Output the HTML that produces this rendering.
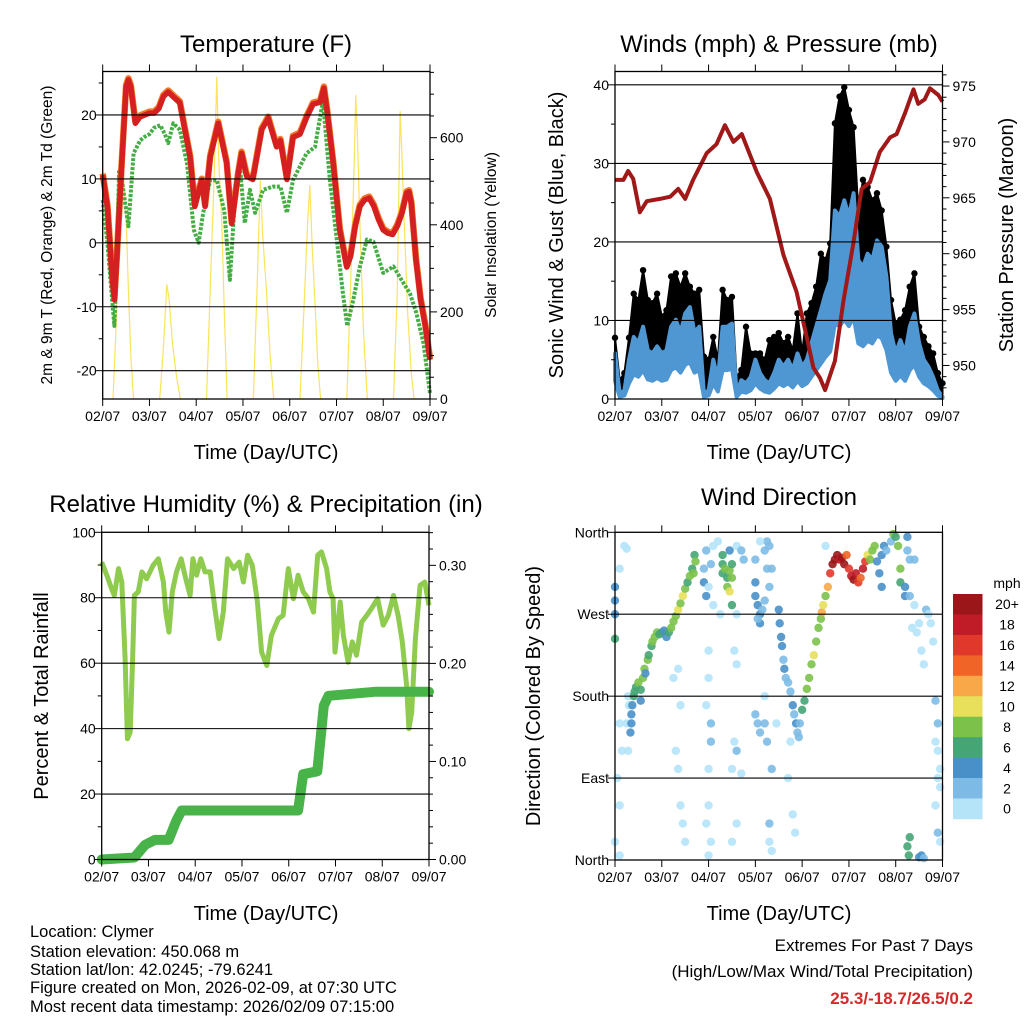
<!DOCTYPE html>
<html><head><meta charset="utf-8"><title>Station meteogram</title>
<style>
html,body{margin:0;padding:0;background:#fff;}
svg{display:block;font-family:"Liberation Sans",Arial,sans-serif;}
.tick{font-size:14px;fill:#000;}
.ttl{font-size:24px;fill:#000;}
.axt{font-size:20px;fill:#000;}
.ft{font-size:16.5px;fill:#000;}
</style></head>
<body>
<svg id="fig" width="1024" height="1024" viewBox="0 0 1024 1024" xmlns="http://www.w3.org/2000/svg">
<rect x="0" y="0" width="1024" height="1024" fill="#fff"/>
<text class="ttl" x="266" y="52" text-anchor="middle">Temperature (F)</text>
<text class="ttl" x="779" y="52" text-anchor="middle">Winds (mph) &amp; Pressure (mb)</text>
<text class="ttl" x="266" y="512" text-anchor="middle">Relative Humidity (%) &amp; Precipitation (in)</text>
<text class="ttl" x="779" y="505" text-anchor="middle">Wind Direction</text>
<text class="axt" x="266" y="459" text-anchor="middle">Time (Day/UTC)</text>
<text class="axt" x="779" y="459" text-anchor="middle">Time (Day/UTC)</text>
<text class="axt" x="266" y="920" text-anchor="middle">Time (Day/UTC)</text>
<text class="axt" x="779" y="920" text-anchor="middle">Time (Day/UTC)</text>
<text font-size="15.5" x="0" y="0" transform="translate(52,235) rotate(-90)" text-anchor="middle">2m &amp; 9m T (Red, Orange) &amp; 2m Td (Green)</text>
<text font-size="15.5" x="0" y="0" transform="translate(496,235) rotate(-90)" text-anchor="middle">Solar Insolation (Yellow)</text>
<text class="axt" x="0" y="0" transform="translate(563,235) rotate(-90)" text-anchor="middle">Sonic Wind &amp; Gust (Blue, Black)</text>
<text class="axt" x="0" y="0" transform="translate(1013,235) rotate(-90)" text-anchor="middle">Station Pressure (Maroon)</text>
<text class="axt" x="0" y="0" transform="translate(48,696) rotate(-90)" text-anchor="middle">Percent &amp; Total Rainfall</text>
<text class="axt" x="0" y="0" transform="translate(540,696) rotate(-90)" text-anchor="middle">Direction (Colored By Speed)</text>
<g>
<text class="ft" x="30" y="937">Location: Clymer</text>
<text class="ft" x="30" y="957">Station elevation: 450.068 m</text>
<text class="ft" x="30" y="975">Station lat/lon: 42.0245; -79.6241</text>
<text class="ft" x="30" y="993">Figure created on Mon, 2026-02-09, at 07:30 UTC</text>
<text class="ft" x="30" y="1012">Most recent data timestamp: 2026/02/09 07:15:00</text>
</g>
<g>
<text font-size="17" x="973" y="951" text-anchor="end">Extremes For Past 7 Days</text>
<text font-size="17" x="973" y="977" text-anchor="end">(High/Low/Max Wind/Total Precipitation)</text>
<text font-size="17" font-weight="bold" fill="#d42a2a" x="973" y="1004" text-anchor="end">25.3/-18.7/26.5/0.2</text>
</g>
</svg>
<script>
// ---------- data ----------
const dayLabels = ["02/07","03/07","04/07","05/07","06/07","07/07","08/07","09/07"];
const tempT = [0,0.1,0.2,0.25,0.3,0.4,0.5,0.55,0.6,0.7,0.8,0.9,1.0,1.1,1.2,1.3,1.4,1.5,1.65,1.75,1.87,1.97,2.05,2.12,2.19,2.3,2.47,2.65,2.76,2.9,2.97,3.08,3.21,3.4,3.54,3.72,3.8,3.94,4.07,4.22,4.36,4.5,4.65,4.73,4.8,4.93,5.07,5.22,5.3,5.4,5.5,5.6,5.7,5.8,5.9,6.0,6.1,6.2,6.3,6.4,6.5,6.55,6.6,6.7,6.8,6.9,7.0];
const tempRed = [10.6,5.7,-5.3,-8.9,-2.7,11.4,24.4,25.5,24.4,18.7,19.7,20,20.3,20.3,21,22.9,23.6,22.9,21.9,18,13.4,5.7,8,9.8,5.7,13.4,18.7,12.5,3,10.9,14,10.4,9.9,17.7,19.5,15,16,9.9,16.5,17,19.6,21.7,22,24.2,20.6,12.5,2,-3.8,-2.1,2.6,5.7,6.7,7,5.7,3.6,2,1.5,1.3,2.6,4.6,7.8,8,6.2,-2.7,-8.9,-13,-18.3];
const dewT = [0,0.1,0.2,0.25,0.3,0.35,0.4,0.55,0.66,0.8,0.9,1.0,1.1,1.23,1.33,1.4,1.51,1.65,1.8,1.95,2.05,2.15,2.3,2.44,2.6,2.72,2.85,2.94,3.04,3.15,3.26,3.43,3.64,3.8,3.94,4.07,4.36,4.54,4.71,4.86,5.0,5.14,5.23,5.36,5.5,5.65,5.79,6.0,6.22,6.39,6.57,6.71,6.86,7.0];
const dewV = [6.7,0,-8.9,-13,-2.7,11.4,10.4,2.6,14,16,16.6,17,18,18.4,17,15.6,18.7,17.7,12.5,2,0,4.7,9.8,9.8,5,-5.8,9.8,11.4,3.1,8.3,4.7,8.3,8.8,8.8,4.7,9.8,14,15,22.2,9.8,0.9,-8,-13,-8.9,-3.7,0.5,0.2,-4.7,-3.7,-5.8,-7.9,-11,-15.7,-23.5];
const solarT = [0.22,0.3,0.38,0.41,0.45,0.5,0.55,0.6,0.66,null,1.22,1.3,1.37,1.42,1.5,1.58,1.66,null,2.22,2.3,2.38,2.44,2.48,2.55,2.6,2.66,null,3.22,3.3,3.37,3.42,3.5,3.58,3.66,null,4.22,4.3,4.38,4.43,4.48,4.55,4.6,4.66,null,5.22,5.3,5.38,5.41,5.45,5.5,5.58,5.66,null,6.22,6.3,6.36,6.4,6.45,6.52,6.6,6.66];
const solarV = [0,200,450,596,500,420,250,100,0,null,0,120,263,230,120,50,0,null,0,250,500,740,550,400,200,0,null,0,250,502,380,250,100,0,null,0,200,400,491,350,200,80,0,null,0,250,550,698,600,400,150,0,null,0,250,661,560,400,200,60,0];
const windMean = [5.8,0.7,1.1,5.0,7.9,7.1,9.2,6.2,5.8,6.7,5.8,6.2,9.2,10.1,8.4,10.9,11.7,8.4,9.2,0.7,1.1,5.0,2.4,9.2,9.2,9.6,0.7,2.4,2.0,2.8,5.0,3.3,2.4,2.0,3.3,5.0,4.1,5.0,3.7,5.8,4.1,5.0,7.1,9.2,11.3,13.4,15.1,24.0,23.2,25.3,23.2,26.2,17.7,16.8,18.5,17.7,20.2,19.4,15.6,8.4,5.8,7.5,5.8,9.2,10.9,7.1,5.0,4.1,2.8,1.1,0.3];
const windGust = [7.8,2.4,3.3,7.8,13.4,12.6,16.4,12.6,12.2,13.4,10.5,11.3,15.6,16.0,14.3,16.0,14.3,13.4,13.9,5.4,5.0,7.9,5.0,13.9,12.6,13.0,2.8,3.7,9.2,5.8,5.8,5.8,5.0,7.5,7.9,8.4,7.1,7.9,6.2,10.9,5.8,10.9,12.2,14.3,18.5,17.7,19.8,35.1,38.5,39.7,36.8,34.6,24.0,27.9,27.0,25.3,26.2,24.0,19.4,12.6,9.6,10.1,11.3,14.3,16.0,9.2,7.9,6.7,5.8,3.3,2.0];
const presT = [0,0.18,0.28,0.39,0.53,0.68,0.96,1.18,1.35,1.5,1.67,1.96,2.17,2.35,2.53,2.71,3.03,3.31,3.6,3.88,4.1,4.24,4.38,4.49,4.7,4.88,5.09,5.27,5.45,5.66,5.88,6.02,6.2,6.38,6.48,6.62,6.73,6.91,7.0];
const presV = [966.6,966.6,967.4,966.7,963.7,964.7,964.9,965.1,965.8,964.9,966.6,969,969.8,971.5,970,970.7,967.3,964.9,959.9,956.6,952.5,949.8,948.9,947.8,950.4,955.7,960.8,965.8,966.4,969.1,970.4,970.7,972.6,974.7,973.4,973.8,974.8,974.2,973.6];
const rhT = [0,0.11,0.21,0.27,0.36,0.43,0.5,0.55,0.61,0.66,0.7,0.78,0.86,0.96,1.1,1.21,1.32,1.37,1.44,1.51,1.6,1.7,1.78,1.89,1.95,2.03,2.12,2.21,2.32,2.42,2.51,2.6,2.69,2.82,2.94,3.03,3.12,3.22,3.33,3.42,3.53,3.63,3.78,3.88,3.99,4.1,4.2,4.31,4.42,4.53,4.62,4.7,4.81,4.88,4.95,4.99,5.1,5.17,5.27,5.36,5.45,5.56,5.67,5.77,5.9,6.02,6.13,6.24,6.34,6.43,6.52,6.57,6.63,6.71,6.81,6.91,7.0];
const rhV = [90.9,86.9,82.8,80.7,88.9,84.8,61.4,36.9,38.9,61,80.7,81.8,87.9,85.8,89.9,91.9,84.8,75.6,69.5,81.8,87.9,91.9,86.9,80.7,91.9,86.9,91.9,87.9,87.9,76.7,67.5,75.6,91.9,88.9,90.9,84.8,93,89.9,78.7,63.4,59.3,68.5,73.6,74.6,88.9,79.7,86.9,81.8,79.7,75.6,93,94,88.9,81.8,79.7,63.4,78.7,68.5,60.3,66.5,62.4,72.6,74.6,76.7,79.7,71.6,74.6,80.7,74.6,66.5,53.2,40,45,67.5,83.8,84.8,77.7];
const precT = [0,0.7,0.93,1.14,1.43,1.6,1.71,4.2,4.31,4.61,4.75,4.85,5.84,7.0];
const precV = [0,0.002,0.015,0.02,0.02,0.04,0.05,0.05,0.087,0.09,0.157,0.167,0.171,0.171];
const dirT = [0,0,0,0,0.1,0.2,0.25,0.28,0.3,0.25,0.28,0.35,0.33,0.35,0.37,0.4,0.42,0.45,0.5,0.55,0.55,0.6,0.63,0.65,0.7,0.72,0.78,0.8,0.85,0.9,0.95,1.0,1.05,1.1,1.15,1.2,1.25,1.3,1.35,1.4,1.45,1.5,1.55,1.6,1.65,1.7,1.72,1.68,
1.95,1.9,1.9,1.95,2.0,2.05,2.1,2.1,2.0,2.0,1.95,2.05,2.05,2.0,2.0,1.95,2.05,2.0,
2.3,2.3,2.35,2.4,2.4,2.45,2.5,2.45,2.3,2.5,2.45,2.5,
2.6,2.7,2.75,2.6,2.55,2.6,2.55,2.6,2.5,2.7,2.6,2.5,
3.0,3.0,3.05,3.1,3.1,3.15,3.05,3.2,3.25,3.2,3.25,3.3,3.3,3.35,3.0,3.1,
3.0,3.05,3.1,3.2,3.2,3.25,3.35,3.3,3.3,3.35,3.45,
3.5,3.52,3.55,3.57,3.6,3.62,3.65,3.7,3.75,3.8,3.83,3.87,3.9,3.93,3.95,4.0,4.05,4.1,4.15,4.2,4.25,4.3,4.35,4.4,4.42,4.45,4.5,4.55,4.6,4.65,4.7,4.75,4.8,4.85,4.9,4.95,5.0,5.05,5.1,5.15,5.2,5.25,5.3,5.35,5.4,5.45,5.5,5.55,5.6,5.65,5.7,5.7,5.75,5.8,5.9,5.95,6.0,6.05,6.1,6.1,6.2,6.2,6.25,6.25,6.3,
6.4,6.35,6.45,6.5,6.55,6.6,6.65,6.7,6.75,6.8,6.85,6.9,6.85,6.9,6.95,6.9,6.95,6.85,6.9,6.95,6.4,6.3,
6.25,6.3,6.28,6.5,6.55,6.6,
0.1,0.15,0.05,0.1,0.0,0.1,1.3,1.35,1.4,1.45,1.5,1.4,1.25,1.35,2.2,2.25,3.7,3.8,3.75,3.85,4.5];
const dirD = [300,285,270,243,320,345,342,180,170,150,120,150,140,160,170,180,185,190,195,187,175,200,210,205,220,225,235,240,245,250,248,250,252,245,250,255,262,268,275,282,290,298,305,312,320,335,328,315,
340,320,305,290,300,325,345,280,230,200,170,150,130,100,60,40,20,5,
325,315,320,310,300,318,310,295,335,325,340,280,
345,340,330,270,230,215,130,120,100,95,40,20,
305,290,280,270,260,275,265,285,320,340,350,345,300,320,330,350,
160,150,140,180,150,130,100,40,20,10,150,
275,260,245,235,220,210,200,195,185,170,160,150,140,135,150,165,175,188,200,215,225,240,255,265,272,280,290,300,315,325,330,335,330,332,325,335,320,312,308,315,305,310,320,328,335,330,340,345,328,315,300,335,345,340,350,358,355,345,320,305,290,300,355,340,330,
280,255,250,260,230,215,275,270,260,240,175,150,130,120,100,90,80,60,30,20,330,290,
15,25,5,3,5,2,
150,120,90,60,20,5,120,100,60,40,20,170,200,210,350,270,90,50,130,30,345];
const dirS = [4,4,5,6,1,1,1,1,1,1,1,4,4,4,5,6,7,7,8,7,5,9,8,5,9,6,7,8,9,8,7,6,5,4,7,9,8,8,10,9,10,8,7,8,7,7,8,9,
3,3,4,4,1,2,1,1,1,1,1,3,3,1,1,1,1,1,
7,7,8,7,8,9,8,10,7,6,4,6,
1,2,2,1,1,1,1,2,1,1,1,1,
4,4,4,5,4,3,3,3,3,2,2,3,3,2,2,1,
3,3,2,1,3,3,3,3,1,1,1,
4,4,4,4,3,4,3,3,3,4,3,4,3,2,3,6,6,8,8,9,10,9,8,9,12,10,9,12,16,20,20,20,18,20,20,14,16,18,20,18,16,14,18,16,10,9,8,8,4,4,4,4,4,3,3,8,7,9,8,7,4,5,4,3,3,
1,1,1,1,1,1,2,1,1,1,3,3,1,1,1,1,1,1,3,1,3,3,
7,7,7,4,4,3,
1,1,1,1,1,1,1,1,1,1,1,1,1,1,1,1,1,1,1,1,1];
const speedColors = ["#b5e3f8","#7dbbe6","#4a90c8","#45a574","#7cc24a","#e8e05a","#f8a848","#f06428","#e0382a","#c01c28","#9a1618"];
const speedLabels = ["0","2","4","6","8","10","12","14","16","18","20+"];

// ---------- helpers ----------
const NS = "http://www.w3.org/2000/svg";
const fig = document.getElementById("fig");
function mk(tag, attrs, parent){
  const e = document.createElementNS(NS, tag);
  for (const k in attrs) e.setAttribute(k, attrs[k]);
  (parent || fig).appendChild(e);
  return e;
}
function grp(name){
  const g = mk("g", {});
  
  
  return g;
}
function linePath(ts, vs, xf, yf){
  let d = "", pen = false;
  for (let i = 0; i < ts.length; i++){
    if (ts[i] === null || vs[i] === null){ pen = false; continue; }
    d += (pen ? "L" : "M") + xf(ts[i]).toFixed(1) + " " + yf(vs[i]).toFixed(1);
    pen = true;
  }
  return d;
}

const P = {
  t:{x0:102.7,x1:430,y0:71.5,y1:399},
  w:{x0:615,x1:942.5,y0:71.5,y1:399},
  r:{x0:101.7,x1:429,y0:532.3,y1:859.5},
  d:{x0:615,x1:942.5,y0:532.3,y1:860}
};
function xs(p){ return t => p.x0 + (p.x1 - p.x0) * t / 7; }
function lin(d0, d1, p){ return v => p.y1 - (v - d0) / (d1 - d0) * (p.y1 - p.y0); }

const tx = xs(P.t), ty = lin(-24.43, 26.8, P.t), sy = lin(0, 752, P.t);
const wx = xs(P.w), wy = lin(0, 41.7, P.w), py = lin(947.0, 976.3, P.w);
const rx = xs(P.r), ry = lin(0, 100, P.r), pry = lin(0, 0.3337, P.r);
const dx = xs(P.d), dy = lin(0, 360, P.d);

function axes(p, name, xfn, leftMaj, leftMin, leftFn, leftFmt, rightMaj, rightMin, rightFn, rightFmt, grid){
  const g = grp(name + "-axes");
  grid.forEach(v => {
    const y = leftFn(v);
    const l = mk("line", {x1:p.x0, x2:p.x1, y1:y, y2:y, stroke:"#000", "stroke-width":1.1}, g);
    
    
  });
  const box = mk("rect", {x:p.x0, y:p.y0, width:p.x1-p.x0, height:p.y1-p.y0, fill:"none", stroke:"#000", "stroke-width":1.3}, g);
  
  
  for (let i = 0; i <= 7; i++){
    const x = xfn(i);
    mk("line", {x1:x, x2:x, y1:p.y1, y2:p.y1+7, stroke:"#000", "stroke-width":1}, g);
    mk("line", {x1:x, x2:x, y1:p.y0, y2:p.y0-7, stroke:"#000", "stroke-width":1}, g);
    const t = mk("text", {x:x, y:p.y1+22, "text-anchor":"middle", class:"tick"}, g);
    t.textContent = dayLabels[i];
    
    
  }
  leftMin.forEach(v => { const y = leftFn(v); mk("line", {x1:p.x0-4, x2:p.x0, y1:y, y2:y, stroke:"#000"}, g); });
  leftMaj.forEach((v,i) => {
    const y = leftFn(v);
    mk("line", {x1:p.x0-7, x2:p.x0, y1:y, y2:y, stroke:"#000"}, g);
    const t = mk("text", {x:p.x0-6, y:y+5, "text-anchor":"end", class:"tick"}, g);
    t.textContent = leftFmt[i];
    
    
  });
  if (rightFn){
    rightMin.forEach(v => { const y = rightFn(v); mk("line", {x1:p.x1, x2:p.x1+4, y1:y, y2:y, stroke:"#000"}, g); });
    rightMaj.forEach((v,i) => {
      const y = rightFn(v);
      mk("line", {x1:p.x1, x2:p.x1+7, y1:y, y2:y, stroke:"#000"}, g);
      const t = mk("text", {x:p.x1+10, y:y+5, "text-anchor":"start", class:"tick"}, g);
      t.textContent = rightFmt[i];
      
      
    });
  }
}

// ---------- Panel 1: temperature ----------
(function(){
  const g = grp("temperature-panel");
  const sol = mk("path", {d:linePath(solarT, solarV, tx, sy), fill:"none", stroke:"#fbe35c", "stroke-width":1.2}, g);
  
  
  const or = mk("path", {d:linePath(tempT, tempRed, tx, v => ty(v) - 1.5), fill:"none", stroke:"#f27a2a", "stroke-width":6.5, "stroke-linejoin":"round"}, g);
  
  
  const gr = mk("path", {d:linePath(dewT, dewV, tx, ty), fill:"none", stroke:"#44ad44", "stroke-width":4, "stroke-dasharray":"3 1.5", "stroke-linejoin":"round"}, g);
  
  
  const rd = mk("path", {d:linePath(tempT, tempRed, tx, ty), fill:"none", stroke:"#d42020", "stroke-width":5.5, "stroke-linejoin":"round"}, g);
  
  
  axes(P.t, "temp", tx, [-20,-10,0,10,20], [-15,-5,5,15,25], ty, ["-20","-10","0","10","20"],
       [0,200,400,600], [50,100,150,250,300,350,450,500,550,650,700,750], sy, ["0","200","400","600"], [-20,-10,0,10,20]);
})();

// ---------- Panel 2: winds & pressure ----------
(function(){
  const g = grp("winds-panel");
  const n = windMean.length;
  const wt = windMean.map((_, i) => i / 10);
  let d = "";
  for (let i = 0; i < n; i++) d += (i ? "L" : "M") + wx(wt[i]).toFixed(1) + " " + wy(windGust[i]).toFixed(1);
  for (let i = n - 1; i >= 0; i--) d += "L" + wx(wt[i]).toFixed(1) + " " + wy(windMean[i]).toFixed(1);
  const gb = mk("path", {d:d + "Z", fill:"#000", stroke:"#000", "stroke-width":2, "stroke-linejoin":"round"}, g);
  
  
  for (let i = 0; i < n; i++){
    const c = mk("circle", {cx:wx(wt[i]), cy:wy(windGust[i]), r:3.2, fill:"#000"}, g);
    
    
  }
  d = "";
  for (let i = 0; i < n; i++) d += (i ? "L" : "M") + wx(wt[i]).toFixed(1) + " " + wy(windMean[i]).toFixed(1);
  for (let i = n - 1; i >= 0; i--) d += "L" + wx(wt[i]).toFixed(1) + " " + wy(windMean[i] * 0.4).toFixed(1);
  const bb = mk("path", {d:d + "Z", fill:"#4f97d2", stroke:"#4f97d2", "stroke-width":4, "stroke-linejoin":"round"}, g);
  
  
  const pr = mk("path", {d:linePath(presT, presV, wx, py), fill:"none", stroke:"#a01818", "stroke-width":4, "stroke-linejoin":"round"}, g);
  
  
  const pMin = [], pMaj = [950,955,960,965,970,975];
  for (let v = 948; v <= 976; v++) if (v % 5) pMin.push(v);
  axes(P.w, "wind", wx, [0,10,20,30,40], [5,15,25,35], wy, ["0","10","20","30","40"],
       pMaj, pMin, py, ["950","955","960","965","970","975"], [10,20,30,40]);
})();

// ---------- Panel 3: RH & precip ----------
(function(){
  const g = grp("humidity-panel");
  const rh = mk("path", {d:linePath(rhT, rhV, rx, ry), fill:"none", stroke:"#8fcb4f", "stroke-width":5, "stroke-linejoin":"round"}, g);
  
  
  const pr = mk("path", {d:linePath(precT, precV, rx, pry), fill:"none", stroke:"#48b348", "stroke-width":10, "stroke-linejoin":"round", "stroke-linecap":"round"}, g);
  
  
  const pm = [];
  for (let k = 1; k <= 20; k++) if (k % 6) pm.push(k / 60);
  axes(P.r, "rh", rx, [0,20,40,60,80,100], [10,30,50,70,90], ry, ["0","20","40","60","80","100"],
       [0,0.1,0.2,0.3], pm, pry, ["0.00","0.10","0.20","0.30"], [20,40,60,80]);
})();

// ---------- Panel 4: wind direction ----------
(function(){
  const g = grp("wind-direction-panel");
  for (let i = 0; i < dirT.length; i++){
    const b = Math.min(10, Math.floor(dirS[i] / 2));
    const c = mk("circle", {cx:dx(dirT[i]), cy:dy(dirD[i]), r:4.2, fill:speedColors[b], "fill-opacity":0.9}, g);
    
    
  }
  axes(P.d, "dir", dx, [0,90,180,270,360], [], dy, ["North","East","South","West","North"], [], [], null, [], [90,180,270]);
  const cb = grp("speed-colorbar");
  const bh = 20.45, top = 594;
  for (let k = 0; k < 11; k++){
    const idx = 10 - k;
    const r = mk("rect", {x:953, y:top + k*bh, width:29.5, height:bh + 0.3, fill:speedColors[idx]}, cb);
    
    
    const t = mk("text", {x:1007, y:top + k*bh + bh/2 + 5, "text-anchor":"middle", class:"tick"}, cb);
    t.textContent = speedLabels[idx];
    
    
  }
  const u = mk("text", {x:1007, y:588, "text-anchor":"middle", class:"tick"}, cb);
  u.textContent = "mph";
  
  
})();
</script>
</body></html>
